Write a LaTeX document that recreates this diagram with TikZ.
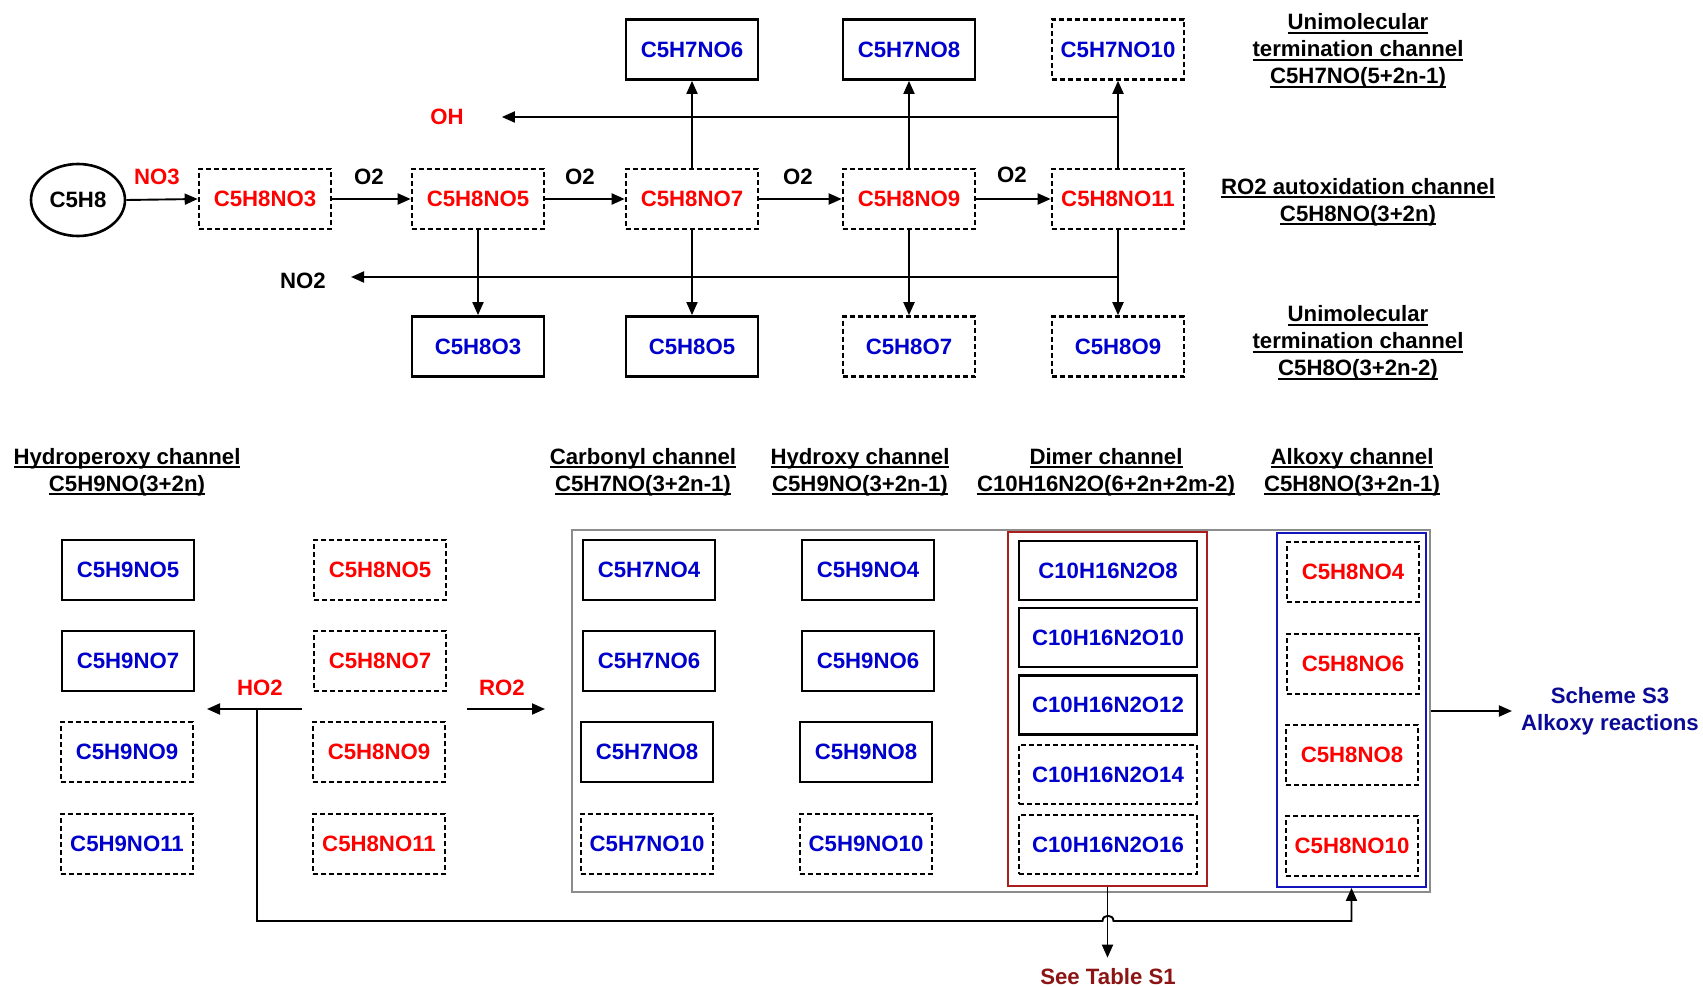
\documentclass[tikz,border=0pt]{standalone}
\usepackage{fontspec}
\setmainfont{Liberation Sans}
\usetikzlibrary{arrows.meta,shapes.geometric}

\definecolor{molred}{RGB}{255,0,0}
\definecolor{molblue}{RGB}{0,0,205}
\definecolor{schemeblue}{RGB}{10,10,150}
\definecolor{tablered}{RGB}{140,20,20}
\definecolor{dimerred}{RGB}{170,30,30}
\definecolor{alkoxyblue}{RGB}{20,20,190}
\definecolor{groupgray}{RGB}{140,140,140}

% underlined heading line
\newcommand{\uln}[1]{\setbox0=\hbox{#1}\rlap{\rule[-3.8pt]{\wd0}{1.9pt}}\box0}

\begin{document}
\begin{tikzpicture}[x=1pt,y=-1pt,
  every node/.style={font=\fontsize{22.2}{27}\selectfont\bfseries, inner sep=0pt},
  species/.style={draw, minimum width=132pt, minimum height=60pt},
  solidbox/.style={species, line width=2.8pt},
  dashbox/.style={species, line width=2.6pt, dash pattern=on 5pt off 3pt},
  radical/.style={dashbox, text=molred},
  stable/.style={solidbox, text=molblue},
  tentative/.style={dashbox, text=molblue},
  dimerbox/.style={minimum width=178pt, minimum height=59pt},
  flow/.style={line width=1.9pt, -{Triangle[length=13pt,width=11pt]}},
  heading/.style={align=center},
]
\useasboundingbox (0,0) rectangle (1703,987);

% ---------- group frames ----------
\node[draw=groupgray, line width=2pt, minimum width=858pt, minimum height=362pt] (allgroup) at (1001,711) {};
\node[draw=dimerred, line width=1.8pt, minimum width=199pt, minimum height=354pt] (dimergroup) at (1107.5,709) {};
\node[draw=alkoxyblue, line width=1.8pt, minimum width=149pt, minimum height=354pt] (alkgroup) at (1351.5,710) {};

% ---------- autoxidation chain ----------
\node[ellipse, draw, line width=2.6pt, minimum width=94pt, minimum height=72pt] (c5h8) at (78,200) {C5H8};
\node[radical] (n3)  at (265,199)  {C5H8NO3};
\node[radical] (n5)  at (478,199)  {C5H8NO5};
\node[radical] (n7)  at (692,199)  {C5H8NO7};
\node[radical] (n9)  at (909,199)  {C5H8NO9};
\node[radical] (n11) at (1118,199) {C5H8NO11};

\node[stable]    (k6)  at (692,49.5)  {C5H7NO6};
\node[stable]    (k8)  at (909,49.5)  {C5H7NO8};
\node[tentative] (k10) at (1118,49.5) {C5H7NO10};

\node[stable]    (d3) at (478,346.5)  {C5H8O3};
\node[stable]    (d5) at (692,346.5)  {C5H8O5};
\node[tentative] (d7) at (909,346.5)  {C5H8O7};
\node[tentative] (d9) at (1118,346.5) {C5H8O9};

\node[text=molred] (lno3) at (157,177) {NO3};
\node (lo2a) at (369,177) {O2};
\node (lo2b) at (580,177) {O2};
\node (lo2c) at (798,177) {O2};
\node (lo2d) at (1012,175) {O2};
\node[text=molred] (oh) at (447,117) {OH};
\node (no2) at (303,281) {NO2};

\draw[flow] (c5h8.east) -- (n3.west);
\draw[flow] (n3.east) -- (n5.west);
\draw[flow] (n5.east) -- (n7.west);
\draw[flow] (n7.east) -- (n9.west);
\draw[flow] (n9.east) -- (n11.west);

\draw[flow] (n7.north) -- (k6.south);
\draw[flow] (n9.north) -- (k8.south);
\draw[flow] (n11.north) -- (k10.south);
\draw[flow] (n5.south) -- (d3.north);
\draw[flow] (n7.south) -- (d5.north);
\draw[flow] (n9.south) -- (d7.north);
\draw[flow] (n11.south) -- (d9.north);

\coordinate (ohjoin) at (1118,117);
\coordinate (nojoin) at (1118,277);
\draw[flow, shorten >=38pt] (ohjoin) -- (oh.east);
\draw[flow, shorten >=25pt] (nojoin) -- (nojoin -| no2.east);

% ---------- channel headings (top right) ----------
\node[heading] (hterm1) at (1358,51)  {\uln{Unimolecular}\\\uln{termination channel}\\\uln{C5H7NO(5+2n-1)}};
\node[heading] (hauto)  at (1358,202) {\uln{RO2 autoxidation channel}\\\uln{C5H8NO(3+2n)}};
\node[heading] (hterm2) at (1358,343) {\uln{Unimolecular}\\\uln{termination channel}\\\uln{C5H8O(3+2n-2)}};

% ---------- bimolecular channel headings ----------
\node[heading] (hhp)  at (127,472)  {\uln{Hydroperoxy channel}\\\uln{C5H9NO(3+2n)}};
\node[heading] (hcb)  at (643,472)  {\uln{Carbonyl channel}\\\uln{C5H7NO(3+2n-1)}};
\node[heading] (hhy)  at (860,472)  {\uln{Hydroxy channel}\\\uln{C5H9NO(3+2n-1)}};
\node[heading] (hdm)  at (1106,472) {\uln{Dimer channel}\\\uln{C10H16N2O(6+2n+2m-2)}};
\node[heading] (hak)  at (1352,472) {\uln{Alkoxy channel}\\\uln{C5H8NO(3+2n-1)}};

% hydroperoxy products
\node[stable]    (hp5)  at (128,570) {C5H9NO5};
\node[stable]    (hp7)  at (128,661) {C5H9NO7};
\node[tentative] (hp9)  at (127,752) {C5H9NO9};
\node[tentative] (hp11) at (127,844) {C5H9NO11};

% peroxy radicals
\node[radical] (r5)  at (380,570) {C5H8NO5};
\node[radical] (r7)  at (380,661) {C5H8NO7};
\node[radical] (r9)  at (379,752) {C5H8NO9};
\node[radical] (r11) at (379,844) {C5H8NO11};

% carbonyl products
\node[stable]    (cb4)  at (649,570) {C5H7NO4};
\node[stable]    (cb6)  at (649,661) {C5H7NO6};
\node[stable]    (cb8)  at (647,752) {C5H7NO8};
\node[tentative] (cb10) at (647,844) {C5H7NO10};

% hydroxy products
\node[stable]    (hy4)  at (868,570) {C5H9NO4};
\node[stable]    (hy6)  at (868,661) {C5H9NO6};
\node[stable]    (hy8)  at (866,752) {C5H9NO8};
\node[tentative] (hy10) at (866,844) {C5H9NO10};

% dimers
\node[stable, dimerbox]    (dm8)  at (1108,570.5) {C10H16N2O8};
\node[stable, dimerbox]    (dm10) at (1108,637.5) {C10H16N2O10};
\node[stable, dimerbox]    (dm12) at (1108,705)   {C10H16N2O12};
\node[tentative, dimerbox] (dm14) at (1108,774.5) {C10H16N2O14};
\node[tentative, dimerbox] (dm16) at (1108,844.5) {C10H16N2O16};

% alkoxy radicals
\node[radical] (ak4)  at (1353,572) {C5H8NO4};
\node[radical] (ak6)  at (1353,664) {C5H8NO6};
\node[radical] (ak8)  at (1352,755) {C5H8NO8};
\node[radical] (ak10) at (1352,846) {C5H8NO10};

% reaction partners
\node[text=molred] (lho2) at (260,688) {HO2};
\node[text=molred] (lro2) at (502,688) {RO2};

\coordinate (ho2from)   at (302,709);
\coordinate (ho2to)     at (207,709);
\coordinate (ho2branch) at (257,709);
\coordinate (ro2from)   at (467,709);
\coordinate (ro2to)     at (545,709);
\coordinate (loopcorner) at (257,921);
\coordinate (hopin)     at (1102.5,921);
\coordinate (hopout)    at (1113.5,921);

\draw[flow] (ho2from) -- (ho2to);
\draw[flow] (ro2from) -- (ro2to);
\draw[flow] (ho2branch) -- (loopcorner) -- (hopin)
  .. controls +(0,-7) and +(0,-7) .. (hopout) -| (alkgroup.south);

% follow-up references
\node[text=tablered] (seetable) at (1108,977) {See Table S1};
\node[text=schemeblue, align=center] (scheme) at (1610,711) {Scheme S3\\Alkoxy reactions};

\draw[flow, shorten >=11pt] (dimergroup.south) -- (dimergroup.south |- seetable.north);
\draw[flow, shorten >=9pt] (allgroup.east) -- (allgroup.east -| scheme.west);
\end{tikzpicture}
\end{document}
